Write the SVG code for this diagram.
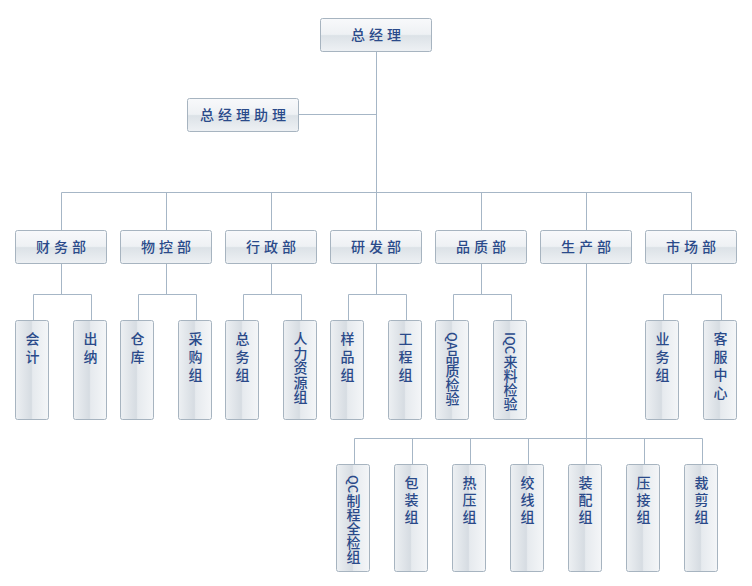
<svg xmlns="http://www.w3.org/2000/svg" width="752" height="586" viewBox="0 0 752 586">
<defs>
<linearGradient id="gh" x1="0" y1="0" x2="0" y2="1">
<stop offset="0" stop-color="#f8f9fb"/>
<stop offset="0.48" stop-color="#eef1f4"/>
<stop offset="0.52" stop-color="#dce2e7"/>
<stop offset="1" stop-color="#eef1f4"/>
</linearGradient>
<linearGradient id="gv" x1="0" y1="0" x2="1" y2="0">
<stop offset="0" stop-color="#edf0f3"/>
<stop offset="0.48" stop-color="#d6dce2"/>
<stop offset="0.52" stop-color="#e6eaee"/>
<stop offset="1" stop-color="#f4f6f8"/>
</linearGradient>
</defs>
<style>
.h{fill:url(#gh);stroke:#a7b4c0;stroke-width:1}
.v{fill:url(#gv);stroke:#a7b4c0;stroke-width:1}
.t{font-family:"Noto Sans CJK SC","Liberation Sans",sans-serif;font-size:14px;font-weight:500;fill:#2a4a8a;letter-spacing:4px}
.th{text-anchor:middle;dominant-baseline:central}
.tv{writing-mode:vertical-rl;text-anchor:start}
.tight{letter-spacing:0.5px}
.lat{font-size:13px;letter-spacing:0}
#connectors path{fill:none;stroke:#a6b6c6;stroke-width:1}
</style>
<g id="connectors">
<path d="M376.5 51.5V230.5M298.5 114.5H376.5"/>
<path d="M61.5 192.5H691.5M61.5 192.5V230.5M166.5 192.5V230.5M271.5 192.5V230.5M481.5 192.5V230.5M586.5 192.5V230.5M691.5 192.5V230.5"/>
<path d="M61.5 263.5V294.5M33.5 320.5V294.5H91.5V320.5"/>
<path d="M166.5 263.5V294.5M138.5 320.5V294.5H196.5V320.5"/>
<path d="M271.5 263.5V294.5M243.5 320.5V294.5H301.5V320.5"/>
<path d="M376.5 263.5V294.5M348.5 320.5V294.5H406.5V320.5"/>
<path d="M481.5 263.5V294.5M453.5 320.5V294.5H511.5V320.5"/>
<path d="M691.5 263.5V294.5M663.5 320.5V294.5H721.5V320.5"/>
<path d="M586.5 263.5V438.5M354.5 464.5V438.5H702.5V464.5M412.5 438.5V464.5M470.5 438.5V464.5M528.5 438.5V464.5M586.5 438.5V464.5M644.5 438.5V464.5"/>
</g>
<g id="n-gm"><rect class="h" x="320.5" y="18.5" width="111" height="33" rx="2"/><text class="t th" x="378" y="34">总经理</text></g>
<g id="n-asst"><rect class="h" x="187.5" y="98.5" width="111" height="33" rx="2"/><text class="t th" x="245" y="114">总经理助理</text></g>
<g id="n-cw"><rect class="h" x="15.5" y="230.5" width="91" height="33" rx="2"/><text class="t th" x="63" y="246">财务部</text></g>
<g id="n-wk"><rect class="h" x="120.5" y="230.5" width="91" height="33" rx="2"/><text class="t th" x="168" y="246">物控部</text></g>
<g id="n-xz"><rect class="h" x="225.5" y="230.5" width="91" height="33" rx="2"/><text class="t th" x="273" y="246">行政部</text></g>
<g id="n-yf"><rect class="h" x="330.5" y="230.5" width="91" height="33" rx="2"/><text class="t th" x="378" y="246">研发部</text></g>
<g id="n-pz"><rect class="h" x="435.5" y="230.5" width="91" height="33" rx="2"/><text class="t th" x="483" y="246">品质部</text></g>
<g id="n-sc"><rect class="h" x="540.5" y="230.5" width="91" height="33" rx="2"/><text class="t th" x="588" y="246">生产部</text></g>
<g id="n-sh"><rect class="h" x="645.5" y="230.5" width="91" height="33" rx="2"/><text class="t th" x="693" y="246">市场部</text></g>

<g id="n-kj"><rect class="v" x="15.5" y="320.5" width="33" height="99" rx="2"/><text class="t tv" x="32.5" y="332">会计</text></g>
<g id="n-cn"><rect class="v" x="73.5" y="320.5" width="33" height="99" rx="2"/><text class="t tv" x="90.5" y="332">出纳</text></g>
<g id="n-ck"><rect class="v" x="120.5" y="320.5" width="33" height="99" rx="2"/><text class="t tv" x="137.5" y="332">仓库</text></g>
<g id="n-cg"><rect class="v" x="178.5" y="320.5" width="33" height="99" rx="2"/><text class="t tv" x="195.5" y="332">采购组</text></g>
<g id="n-zw"><rect class="v" x="225.5" y="320.5" width="33" height="99" rx="2"/><text class="t tv" x="242.5" y="332">总务组</text></g>
<g id="n-rl"><rect class="v" x="283.5" y="320.5" width="33" height="99" rx="2"/><text class="t tv tight" x="300.5" y="332">人力资源组</text></g>
<g id="n-yp"><rect class="v" x="330.5" y="320.5" width="33" height="99" rx="2"/><text class="t tv" x="347.5" y="332">样品组</text></g>
<g id="n-gc"><rect class="v" x="388.5" y="320.5" width="33" height="99" rx="2"/><text class="t tv" x="405.5" y="332">工程组</text></g>
<g id="n-qa"><rect class="v" x="435.5" y="320.5" width="33" height="99" rx="2"/><text class="t tv" x="452.5" y="332" style="letter-spacing:0"><tspan class="lat">QA</tspan>品质检验</text></g>
<g id="n-iqc"><rect class="v" x="493.5" y="320.5" width="33" height="99" rx="2"/><text class="t tv" x="510.5" y="332" style="letter-spacing:0"><tspan class="lat">IQC</tspan>来料检验</text></g>
<g id="n-yw"><rect class="v" x="645.5" y="320.5" width="33" height="99" rx="2"/><text class="t tv" x="662.5" y="332">业务组</text></g>
<g id="n-kf"><rect class="v" x="703.5" y="320.5" width="33" height="99" rx="2"/><text class="t tv" x="720.5" y="332">客服中心</text></g>

<g id="n-qc"><rect class="v" x="336.5" y="464.5" width="33" height="107" rx="2"/><text class="t tv" x="353.5" y="475" style="letter-spacing:0"><tspan class="lat">QC</tspan>制程全检组</text></g>
<g id="n-bz"><rect class="v" x="394.5" y="464.5" width="33" height="107" rx="2"/><text class="t tv" x="411.5" y="476" style="letter-spacing:3px">包装组</text></g>
<g id="n-ry"><rect class="v" x="452.5" y="464.5" width="33" height="107" rx="2"/><text class="t tv" x="469.5" y="476" style="letter-spacing:3px">热压组</text></g>
<g id="n-jx"><rect class="v" x="510.5" y="464.5" width="33" height="107" rx="2"/><text class="t tv" x="527.5" y="476" style="letter-spacing:3px">绞线组</text></g>
<g id="n-zp"><rect class="v" x="568.5" y="464.5" width="33" height="107" rx="2"/><text class="t tv" x="585.5" y="476" style="letter-spacing:3px">装配组</text></g>
<g id="n-yj"><rect class="v" x="626.5" y="464.5" width="33" height="107" rx="2"/><text class="t tv" x="643.5" y="476" style="letter-spacing:3px">压接组</text></g>
<g id="n-cj"><rect class="v" x="684.5" y="464.5" width="33" height="107" rx="2"/><text class="t tv" x="701.5" y="476" style="letter-spacing:3px">裁剪组</text></g>
</svg>
